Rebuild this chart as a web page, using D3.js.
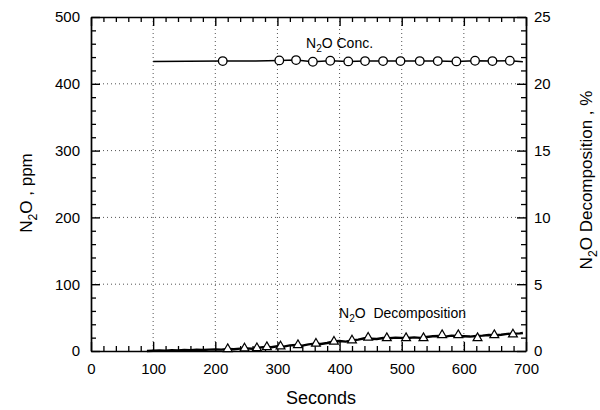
<!DOCTYPE html>
<html>
<head>
<meta charset="utf-8">
<script src="https://cdn.jsdelivr.net/npm/d3@7"></script>
<style>
  body { margin: 0; background: #fff; }
  svg { display: block; }
  text { font-family: "Liberation Sans", Arial, sans-serif; fill: #000; }
</style>
</head>
<body>
<div class="chart"></div>
<script>
// N2O concentration (ppm, left axis) - line and circle markers
var concLineTimes = [100, 212, 265, 303, 330, 357, 385, 414, 441, 470, 498, 529, 558, 588, 618, 646, 674, 695];
var concLineValues = [433.5, 434, 434, 435, 435.5, 433, 434.5, 433.5, 434, 434, 434, 434, 434, 433.5, 434.5, 434, 434.5, 433];
var concMarkTimes = [212, 303, 330, 357, 385, 414, 441, 470, 498, 529, 558, 588, 618, 646, 674];
var concMarkValues = [434, 435, 435.5, 433, 434.5, 433.5, 434, 434, 434, 434, 434, 433.5, 434.5, 434, 434.5];

// N2O decomposition (%, right axis) - noisy line and triangle markers
var decompTimes = [90, 100, 110, 120, 130, 140, 150, 160, 170, 180, 190, 200, 210, 220, 230, 240, 250, 260, 270, 280,
    290, 300, 310, 320, 330, 340, 350, 360, 370, 380, 390, 400, 410, 420, 430, 440, 450, 460, 470, 480,
    490, 500, 510, 520, 530, 540, 550, 560, 570, 580, 590, 600, 610, 620, 630, 640, 650, 660, 670, 680, 690, 695];
var decompValues = [0.0, 0.02, 0.05, 0.03, 0.06, 0.05, 0.08, 0.06, 0.09, 0.08, 0.1, 0.12, 0.1, 0.15, 0.13, 0.18, 0.2, 0.17, 0.25, 0.3,
    0.28, 0.35, 0.33, 0.42, 0.45, 0.4, 0.5, 0.55, 0.52, 0.6, 0.72, 0.75, 0.7, 0.8, 0.85, 0.95, 0.92, 0.9, 0.97, 0.95,
    1.0, 0.98, 0.97, 1.02, 0.98, 1.05, 1.1, 1.12, 1.08, 1.15, 1.12, 1.1, 1.08, 1.12, 1.15, 1.2, 1.18, 1.22, 1.28, 1.3, 1.32, 1.35];
var decompMarkTimes = [220, 247, 267, 283, 305, 333, 362, 391, 420, 446, 476, 507, 535, 565, 591, 622, 649, 679];
var decompMarkValues = [0.15, 0.2, 0.22, 0.3, 0.35, 0.45, 0.55, 0.7, 0.8, 1.0, 0.97, 0.97, 0.97, 1.2, 1.2, 0.97, 1.2, 1.25];

// ticks
var xTicks = [0, 100, 200, 300, 400, 500, 600, 700];
var yTicks = [0, 100, 200, 300, 400, 500];
var y2Ticks = [0, 5, 10, 15, 20, 25];
var xGrid = [100, 200, 300, 400, 500, 600];
var yGrid = [100, 200, 300, 400];

var width = 600, height = 410;
var plotL = 91, plotR = 526, plotT = 17, plotB = 351;

var x = d3.scaleLinear().domain([0, 700]).range([plotL, plotR]);
var y = d3.scaleLinear().domain([0, 500]).range([plotB, plotT]);
var y2 = d3.scaleLinear().domain([0, 25]).range([plotB, plotT]);

var xMinor = d3.range(0, 701, 20).filter(function (d) { return d % 100 !== 0; });
var yMinor = d3.range(0, 501, 20).filter(function (d) { return d % 100 !== 0; });
var y2Minor = d3.range(0, 26, 1).filter(function (d) { return d % 5 !== 0; });

var svg = d3.select('.chart')
    .append('svg')
    .attr('width', width)
    .attr('height', height);

// dotted grid
var grid = svg.append('g')
    .attr('stroke', '#000')
    .attr('stroke-width', 0.9)
    .attr('stroke-dasharray', '1,3')
    .attr('opacity', 0.75);
grid.selectAll('line.gx')
    .data(xGrid)
    .enter()
    .append('line')
    .attr('class', 'gx')
    .attr('x1', function (d) { return x(d); })
    .attr('x2', function (d) { return x(d); })
    .attr('y1', plotT)
    .attr('y2', plotB);
grid.selectAll('line.gy')
    .data(yGrid)
    .enter()
    .append('line')
    .attr('class', 'gy')
    .attr('y1', function (d) { return y(d); })
    .attr('y2', function (d) { return y(d); })
    .attr('x1', plotL)
    .attr('x2', plotR);

function styleAxis(g) {
    g.attr('font-family', '"Liberation Sans", Arial, sans-serif')
        .attr('font-size', 15);
    g.selectAll('.domain').attr('stroke-width', 1.7);
    g.selectAll('.tick line').attr('stroke-width', 1.4);
}

function minorAxis(axis, pos) {
    svg.append('g')
        .attr('transform', pos)
        .call(axis.tickSize(-5).tickFormat('').tickSizeOuter(0))
        .call(function (g) {
            g.select('.domain').remove();
            g.selectAll('.tick line').attr('stroke-width', 1.3);
        });
}

// bottom
svg.append('g')
    .attr('transform', 'translate(0,' + plotB + ')')
    .call(d3.axisBottom(x).tickValues(xTicks).tickSize(-9).tickSizeOuter(0).tickPadding(12))
    .call(styleAxis);
minorAxis(d3.axisBottom(x).tickValues(xMinor), 'translate(0,' + plotB + ')');

// top
svg.append('g')
    .attr('transform', 'translate(0,' + plotT + ')')
    .call(d3.axisTop(x).tickValues(xTicks).tickSize(-9).tickSizeOuter(0).tickFormat(''))
    .call(styleAxis);
minorAxis(d3.axisTop(x).tickValues(xMinor), 'translate(0,' + plotT + ')');

// left
svg.append('g')
    .attr('transform', 'translate(' + plotL + ',0)')
    .call(d3.axisLeft(y).tickValues(yTicks).tickSize(-9).tickSizeOuter(0).tickPadding(11))
    .call(styleAxis);
minorAxis(d3.axisLeft(y).tickValues(yMinor), 'translate(' + plotL + ',0)');

// right
svg.append('g')
    .attr('transform', 'translate(' + plotR + ',0)')
    .call(d3.axisRight(y2).tickValues(y2Ticks).tickSize(-9).tickSizeOuter(0).tickPadding(8))
    .call(styleAxis);
minorAxis(d3.axisRight(y2).tickValues(y2Minor), 'translate(' + plotR + ',0)');

// conc line
var concLine = d3.line()
    .x(function (d, i) { return x(concLineTimes[i]); })
    .y(function (d) { return y(d); });
svg.append('path')
    .datum(concLineValues)
    .attr('d', concLine)
    .attr('fill', 'none')
    .attr('stroke', '#000')
    .attr('stroke-width', 1.5);

// decomposition line
var decompLine = d3.line()
    .x(function (d, i) { return x(decompTimes[i]); })
    .y(function (d) { return y2(d); });
svg.append('path')
    .datum(decompValues)
    .attr('d', decompLine)
    .attr('fill', 'none')
    .attr('stroke', '#000')
    .attr('stroke-width', 2.4)
    .attr('stroke-linejoin', 'miter');

// circles
svg.selectAll('circle.conc')
    .data(concMarkValues)
    .enter()
    .append('circle')
    .attr('class', 'conc')
    .attr('cx', function (d, i) { return x(concMarkTimes[i]); })
    .attr('cy', function (d) { return y(d); })
    .attr('r', 4.3)
    .attr('fill', '#fff')
    .attr('stroke', '#000')
    .attr('stroke-width', 1.3);

// triangles
var tri = d3.symbol().type(d3.symbolTriangle).size(34);
svg.selectAll('path.decomp')
    .data(decompMarkValues)
    .enter()
    .append('path')
    .attr('class', 'decomp')
    .attr('d', tri)
    .attr('transform', function (d, i) {
        return 'translate(' + x(decompMarkTimes[i]) + ',' + y2(d) + ')';
    })
    .attr('fill', '#fff')
    .attr('stroke', '#000')
    .attr('stroke-width', 1.2);

// text with a subscript 2 after the first letter
function subLabel(t, size, before, after) {
    t.attr('font-size', size);
    t.append('tspan').text(before);
    t.append('tspan').attr('font-size', size * 0.72).attr('dy', size * 0.3).text('2');
    t.append('tspan').attr('dy', -size * 0.3).text(after);
    return t;
}

subLabel(svg.append('text').attr('x', 306).attr('y', 48), 14, 'N', 'O Conc.');
subLabel(svg.append('text').attr('x', 339).attr('y', 318), 14, 'N', 'O\u00a0\u00a0Decomposition');

// axis titles
svg.append('text')
    .attr('x', 321)
    .attr('y', 404)
    .attr('text-anchor', 'middle')
    .attr('font-size', 18)
    .text('Seconds');

subLabel(svg.append('text')
    .attr('transform', 'translate(32,193) rotate(-90)')
    .attr('text-anchor', 'middle'), 17, 'N', 'O , ppm');

subLabel(svg.append('text')
    .attr('transform', 'translate(592,180) rotate(-90)')
    .attr('text-anchor', 'middle'), 17, 'N', 'O Decomposition , %');
</script>
</body>
</html>
